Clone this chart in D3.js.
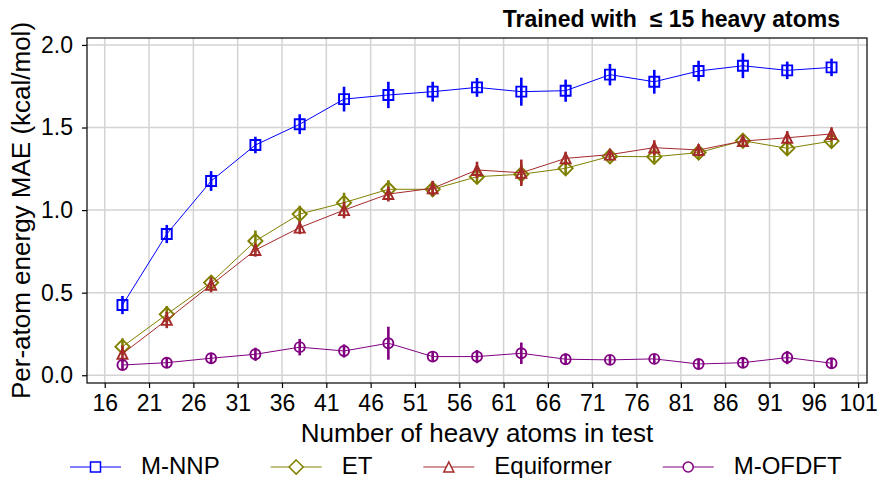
<!DOCTYPE html>
<html>
<head>
<meta charset="utf-8">
<script src="https://cdn.jsdelivr.net/npm/d3@7"></script>
<style>
  body { margin: 0; background: #fff; }
  svg { display: block; font-family: "Liberation Sans", Arial, sans-serif; }
</style>
</head>
<body>
<div id="grafico"></div>
<script>
// numero de atomos pesados en el test
var atomos = [18, 23, 28, 33, 38, 43, 48, 53, 58, 63, 68, 73, 78, 83, 88, 93, 98];

// MAE por atomo (kcal/mol) y su barra de error
var mnnp     = [0.425, 0.855, 1.176, 1.394, 1.520, 1.672, 1.697, 1.717, 1.743, 1.717, 1.723, 1.820, 1.777, 1.842, 1.874, 1.846, 1.864];
var mnnp_err = [0.055, 0.055, 0.060, 0.050, 0.060, 0.075, 0.080, 0.060, 0.057, 0.085, 0.067, 0.065, 0.072, 0.062, 0.075, 0.053, 0.053];

var et     = [0.173, 0.369, 0.561, 0.813, 0.976, 1.045, 1.126, 1.126, 1.202, 1.217, 1.253, 1.325, 1.323, 1.348, 1.420, 1.374, 1.418];
var et_err = [0.050, 0.050, 0.040, 0.063, 0.050, 0.060, 0.055, 0.045, 0.040, 0.060, 0.040, 0.030, 0.035, 0.035, 0.030, 0.040, 0.040];

var equiformer     = [0.130, 0.335, 0.547, 0.758, 0.894, 1.000, 1.097, 1.132, 1.243, 1.226, 1.313, 1.336, 1.378, 1.364, 1.418, 1.438, 1.461];
var equiformer_err = [0.050, 0.050, 0.045, 0.040, 0.040, 0.050, 0.045, 0.045, 0.050, 0.080, 0.040, 0.030, 0.045, 0.035, 0.035, 0.040, 0.040];

var mofdft     = [0.062, 0.076, 0.103, 0.127, 0.170, 0.147, 0.194, 0.113, 0.113, 0.133, 0.097, 0.093, 0.099, 0.068, 0.076, 0.107, 0.073];
var mofdft_err = [0.030, 0.030, 0.030, 0.040, 0.050, 0.040, 0.100, 0.030, 0.040, 0.065, 0.035, 0.030, 0.030, 0.030, 0.030, 0.040, 0.030];

var ticks_x = [16, 21, 26, 31, 36, 41, 46, 51, 56, 61, 66, 71, 76, 81, 86, 91, 96, 101];
var ticks_y = [0, 0.5, 1.0, 1.5, 2.0];

var series = [
  {nombre: "M-NNP", valores: mnnp, err: mnnp_err, color: "#0000ff", marca: "cuadrado"},
  {nombre: "ET", valores: et, err: et_err, color: "#808000", marca: "diamante"},
  {nombre: "Equiformer", valores: equiformer, err: equiformer_err, color: "#a52a2a", marca: "triangulo"},
  {nombre: "M-OFDFT", valores: mofdft, err: mofdft_err, color: "#800080", marca: "circulo"}
];

var width = 879, height = 478;
var margin = {top: 38, right: 12, bottom: 95, left: 87};
var ancho = width - margin.left - margin.right;
var alto = height - margin.top - margin.bottom;

var svg = d3.select("#grafico").append("svg")
  .attr("width", width)
  .attr("height", height);

var g = svg.append("g")
  .attr("transform", "translate(" + margin.left + "," + margin.top + ")");

var x = d3.scaleLinear().domain([14, 102]).range([0, ancho]);
var y = d3.scaleLinear().domain([-0.047, 2.042]).range([alto, 0]);

// rejilla
g.append("g").selectAll("line").data(ticks_x).join("line")
  .attr("x1", d => x(d)).attr("x2", d => x(d))
  .attr("y1", 0).attr("y2", alto)
  .attr("stroke", "#d3d3d3").attr("stroke-width", 1.5);
g.append("g").selectAll("line").data(ticks_y).join("line")
  .attr("x1", 0).attr("x2", ancho)
  .attr("y1", d => y(d)).attr("y2", d => y(d))
  .attr("stroke", "#d3d3d3").attr("stroke-width", 1.5);

// ejes
var xAxis = d3.axisBottom(x).tickValues(ticks_x).tickSize(5).tickPadding(7).tickFormat(d3.format("d"));
var xAxisG = g.append("g")
  .attr("transform", "translate(0," + alto + ")")
  .call(xAxis)
  .attr("font-size", null).attr("font-family", null);
xAxisG.select(".domain").remove();
xAxisG.selectAll("line").attr("stroke", "#000").attr("stroke-width", 1.2);
xAxisG.selectAll("text").style("font-size", "23px").attr("fill", "#000");

var yAxis = d3.axisLeft(y).tickValues(ticks_y).tickSize(5).tickPadding(9).tickFormat(d3.format(".1f"));
var yAxisG = g.append("g")
  .call(yAxis)
  .attr("font-size", null).attr("font-family", null);
yAxisG.select(".domain").remove();
yAxisG.selectAll("line").attr("stroke", "#000").attr("stroke-width", 1.2);
yAxisG.selectAll("text").style("font-size", "23px").attr("fill", "#000");

// marco
g.append("rect")
  .attr("width", ancho).attr("height", alto)
  .attr("fill", "none").attr("stroke", "#000").attr("stroke-width", 1.2);

// dibuja un marcador centrado en (0,0)
function marcador(sel, tipo, s) {
  var h = s / 2;
  if (tipo == "circulo") {
    return sel.append("circle").attr("r", h);
  }
  var p;
  if (tipo == "cuadrado") p = "M" + (-h) + "," + (-h) + "h" + s + "v" + s + "h" + (-s) + "Z";
  if (tipo == "diamante") { var r = s * 0.7071; p = "M0," + (-r) + "L" + r + ",0L0," + r + "L" + (-r) + ",0Z"; }
  if (tipo == "triangulo") p = "M0," + (-h) + "L" + h + "," + h + "L" + (-h) + "," + h + "Z";
  return sel.append("path").attr("d", p);
}

var linea = d3.line()
  .x((d, i) => x(atomos[i]))
  .y(d => y(d));

series.forEach(function(s) {
  var grupo = g.append("g");

  grupo.append("path")
    .datum(s.valores)
    .attr("d", linea)
    .attr("fill", "none")
    .attr("stroke", s.color)
    .attr("stroke-width", 1);

  grupo.selectAll(".err").data(s.valores).join("line")
    .attr("class", "err")
    .attr("x1", (d, i) => x(atomos[i])).attr("x2", (d, i) => x(atomos[i]))
    .attr("y1", (d, i) => y(d - s.err[i]))
    .attr("y2", (d, i) => y(d + s.err[i]))
    .attr("stroke", s.color)
    .attr("stroke-width", 2.6);

  grupo.selectAll(".punto").data(s.valores).join("g")
    .attr("class", "punto")
    .attr("transform", (d, i) => "translate(" + x(atomos[i]) + "," + y(d) + ")")
    .each(function() {
      marcador(d3.select(this), s.marca, 10)
        .attr("fill", "none")
        .attr("stroke", s.color)
        .attr("stroke-width", 1.9);
    });
});

// titulo
svg.append("text")
  .attr("x", 840).attr("y", 27)
  .attr("text-anchor", "end")
  .style("font-size", "23px")
  .style("font-weight", "bold")
  .style("white-space", "pre")
  .text("Trained with  \u2264 15 heavy atoms");

// etiquetas de ejes
svg.append("text")
  .attr("x", margin.left + ancho / 2).attr("y", 442)
  .attr("text-anchor", "middle")
  .style("font-size", "26px")
  .text("Number of heavy atoms in test");

svg.append("text")
  .attr("transform", "translate(30," + (margin.top + alto / 2) + ") rotate(-90)")
  .attr("text-anchor", "middle")
  .style("font-size", "26px")
  .text("Per-atom energy MAE (kcal/mol)");

// leyenda
var leyenda = svg.append("g").attr("transform", "translate(0,467)");
var posx = 70;
series.forEach(function(s) {
  var item = leyenda.append("g").attr("transform", "translate(" + posx + ",0)");
  item.append("line")
    .attr("x1", 0).attr("x2", 51)
    .attr("stroke", s.color).attr("stroke-width", 1);
  marcador(item.append("g").attr("transform", "translate(25.5,0)"), s.marca, 10)
    .attr("fill", "#fff")
    .attr("stroke", s.color)
    .attr("stroke-width", 1.5);
  var t = item.append("text")
    .attr("x", 71).attr("y", 7)
    .style("font-size", "24px")
    .text(s.nombre);
  posx += 71 + t.node().getComputedTextLength() + 51;
});
</script>
</body>
</html>
